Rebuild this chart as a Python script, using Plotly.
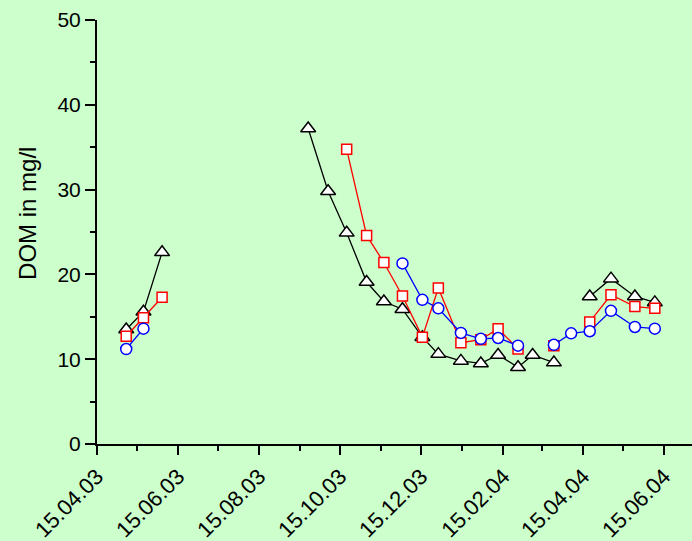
import plotly.graph_objects as go

# Sampling dates, spring 2003 campaign
dates_spring = ["2003-05-07", "2003-05-20", "2003-06-03"]
# Sampling dates, autumn 2003 - summer 2004 campaign
dates_main = ["2003-09-21", "2003-10-06", "2003-10-20", "2003-11-04", "2003-11-17",
              "2003-12-01", "2003-12-16", "2003-12-28", "2004-01-14", "2004-01-29",
              "2004-02-11", "2004-02-26", "2004-03-08", "2004-03-24", "2004-04-06",
              "2004-04-20", "2004-05-06", "2004-05-24", "2004-06-08"]

# DOM concentrations (mg/l); None = no sample
black_spring = [13.5, 15.6, 22.6]
red_spring = [12.7, 14.9, 17.3]
blue_spring = [11.2, 13.6, None]

black_main = [37.2, 29.8, 24.9, 19.1, 16.8, 15.9, 12.6, 10.6, 9.8, 9.5,
              10.5, 9.05, 10.5, 9.6, None, 17.4, 19.5, 17.4, 16.7]
red_main = [None, None, 34.75, 24.6, 21.4, 17.45, 12.6, 18.4, 11.95, 12.3,
            13.6, 11.2, None, 11.6, None, 14.4, 17.6, 16.2, 16.0]
blue_main = [None, None, None, None, None, 21.3, 17.0, 16.0, 13.1, 12.4,
             12.5, 11.6, None, 11.7, 13.05, 13.3, 15.7, 13.8, 13.6]

# Axis ticks
x_tick_vals = ["2003-04-15", "2003-06-15", "2003-08-15", "2003-10-15",
               "2003-12-15", "2004-02-15", "2004-04-15", "2004-06-15"]
x_tick_text = ["15.04.03", "15.06.03", "15.08.03", "15.10.03",
               "15.12.03", "15.02.04", "15.04.04", "15.06.04"]
x_minor_vals = ["2003-05-15", "2003-07-15", "2003-09-15", "2003-11-15",
                "2004-01-15", "2004-03-15", "2004-05-15"]
y_tick_vals = [0, 10, 20, 30, 40, 50]
y_minor_vals = [5, 15, 25, 35, 45]

BG = "#CCFFCC"
FONT = "Arial, Liberation Sans, sans-serif"

series = [
    ("black", "triangle-up", 13, black_spring, black_main),
    ("red", "square", 10, red_spring, red_main),
    ("blue", "circle", 11, blue_spring, blue_main),
]

fig = go.Figure()
for color, symbol, size, spring, main in series:
    for xs, ys in ((dates_spring, spring), (dates_main, main)):
        fig.add_trace(go.Scatter(
            x=xs, y=ys, mode="lines+markers", connectgaps=False,
            line=dict(color=color, width=1.3),
            marker=dict(symbol=symbol, size=size, color="white",
                        line=dict(color=color, width=1.5)),
            showlegend=False, hoverinfo="x+y",
        ))

fig.add_annotation(
    text="DOM in mg/l", textangle=-90, showarrow=False,
    xref="paper", yref="paper", x=-0.116, y=0.545,
    xanchor="center", yanchor="middle",
    font=dict(family=FONT, size=24, color="black"),
)

fig.update_layout(
    width=692, height=541,
    margin=dict(l=97, r=0, t=20, b=97),
    paper_bgcolor=BG, plot_bgcolor=BG,
    font=dict(family=FONT, color="black"),
)
fig.update_xaxes(
    type="date", range=["2003-04-15", "2004-07-06"],
    showgrid=False, zeroline=False,
    showline=True, linecolor="black", linewidth=2,
    tickmode="array", tickvals=x_tick_vals, ticktext=x_tick_text,
    ticks="outside", ticklen=9, tickwidth=2, tickcolor="black",
    tickangle=-45, tickfont=dict(family=FONT, size=22, color="black"),
    minor=dict(tickvals=x_minor_vals, ticks="outside", ticklen=5,
               tickwidth=2, tickcolor="black", showgrid=False),
)
fig.update_yaxes(
    range=[0, 50], showgrid=False, zeroline=False,
    showline=True, linecolor="black", linewidth=2,
    tickmode="array", tickvals=y_tick_vals,
    ticks="outside", ticklen=10, tickwidth=2, tickcolor="black",
    tickfont=dict(family=FONT, size=21, color="black"),
    minor=dict(tickvals=y_minor_vals, ticks="outside", ticklen=5,
               tickwidth=2, tickcolor="black", showgrid=False),
)

fig.write_html("out.html")
